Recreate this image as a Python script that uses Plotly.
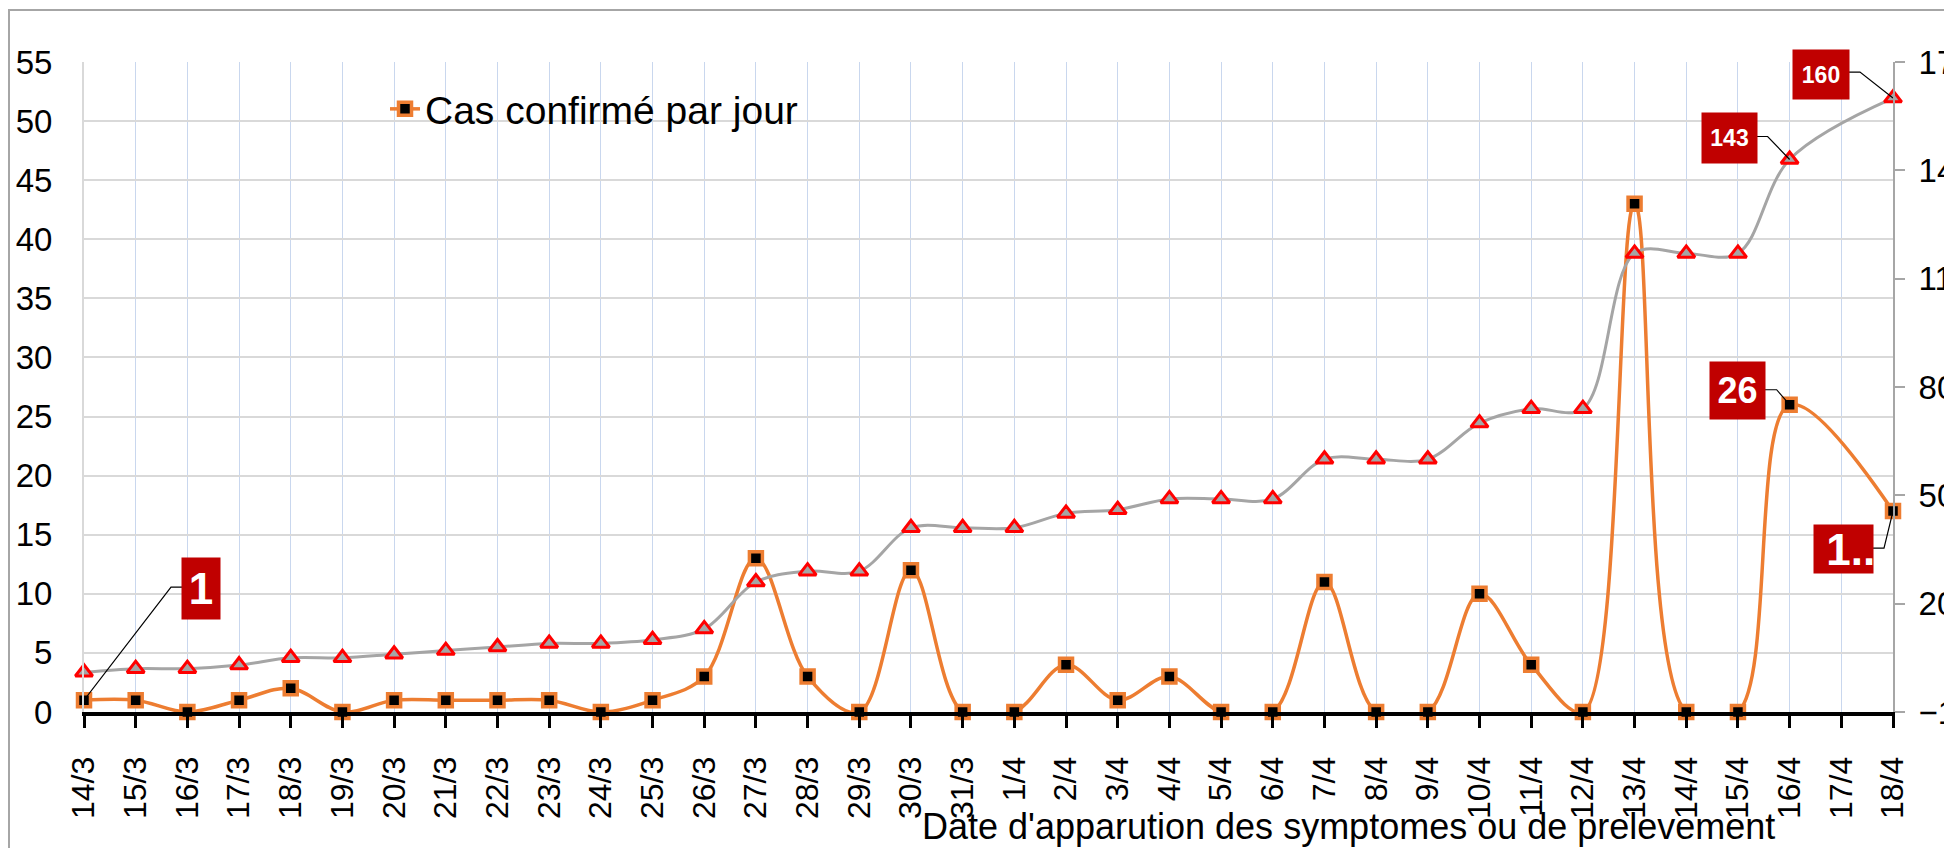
import plotly.graph_objects as go

# ---------------- data ----------------
dates = ["14/3", "15/3", "16/3", "17/3", "18/3", "19/3", "20/3", "21/3", "22/3",
         "23/3", "24/3", "25/3", "26/3", "27/3", "28/3", "29/3", "30/3", "31/3",
         "1/4", "2/4", "3/4", "4/4", "5/4", "6/4", "7/4", "8/4", "9/4", "10/4",
         "11/4", "12/4", "13/4", "14/4", "15/4", "16/4", "17/4", "18/4"]
daily_cases = [1, 1, 0, 1, 2, 0, 1, 1, 1, 1, 0, 1, 3, 13, 3, 0, 12, 0,
               0, 4, 1, 3, 0, 0, 11, 0, 0, 10, 4, 0, 43, 0, 0, 26, None, 17]
cumulative_cases = [1, 2, 2, 3, 5, 5, 6, 7, 8, 9, 9, 10, 13, 26, 29, 29, 41, 41,
                    41, 45, 46, 49, 49, 49, 60, 60, 60, 70, 74, 74, 117, 117, 117, 143, None, 160]
left_range = [0, 55]
left_dtick = 5
right_range = [-10, 170]
right_dtick = 30
legend_name = "Cas confirmé par jour"
x_title = "Date d'apparution des symptomes ou de prelevement"
# data labels: (date, series, shown text)
data_labels = [("14/3", "daily", "1"), ("16/4", "daily", "26"), ("18/4", "daily", "\u00a01.."),
               ("16/4", "cumul", "143"), ("18/4", "cumul", "160")]

# ---------------- layout geometry (page pixels) ----------------
PAGE_W, PAGE_H = 1952, 848
OFF = 8                      # default body margin of the html page
W, H = PAGE_W - OFF, PAGE_H - OFF
L, R, T, B = 84, 1893, 62, 712   # plot area in page pixels


def pxx(px):
    return (px - L) / (R - L)


def pxy(py):
    return (B - py) / (B - T)


FONT = "Liberation Sans, Arial, sans-serif"
ORANGE = "#ED7D31"
GRAY = "#A5A5A5"
LABEL_BG = "#C00000"

fig = go.Figure()
fig.add_trace(go.Scatter(
    x=dates, y=daily_cases, name=legend_name, mode="lines+markers",
    line=dict(color=ORANGE, width=3.5, shape="spline", smoothing=1),
    connectgaps=True, cliponaxis=False,
    marker=dict(symbol="square", size=13, color="black", line=dict(color=ORANGE, width=3.5)),
))
fig.add_trace(go.Scatter(
    x=dates, y=cumulative_cases, yaxis="y2", name="Cumul", mode="lines+markers",
    line=dict(color=GRAY, width=3, shape="spline", smoothing=1),
    connectgaps=True, cliponaxis=False, showlegend=False,
    marker=dict(symbol="triangle-up", size=15, color=GRAY, line=dict(color="#FF0000", width=3)),
))

# label styles: shift of box centre from the point (px, y up), box size, font size, leader path
label_style = {
    "1": dict(xs=117, ys=112, w=38, h=61, fs=44, al="center", path=[(98, 113), (87, 113)]),
    "26": dict(xs=-52, ys=14, w=55, h=57, fs=36, al="center", path=[(-25, 15), (-13, 15)]),
    "\u00a01..": dict(xs=-50, ys=-38, w=59, h=48, fs=44, al="left", path=[(-20, -37), (-9, -37)]),
    "143": dict(xs=-60, ys=22, w=55, h=50, fs=23, al="center", path=[(-33, 23), (-22, 23)]),
    "160": dict(xs=-72, ys=24, w=56, h=49, fs=23, al="center", path=[(-44, 26), (-33, 26)]),
}

annotations = []
shapes = []
for d, series, txt in data_labels:
    i = dates.index(d)
    yv = daily_cases[i] if series == "daily" else cumulative_cases[i]
    yref = "y" if series == "daily" else "y2"
    st = label_style[txt]
    annotations.append(dict(
        x=i, y=yv, xref="x", yref=yref, text="<b>%s</b>" % txt, showarrow=False,
        xshift=st["xs"], yshift=st["ys"], width=st["w"], height=st["h"], borderpad=0,
        bgcolor=LABEL_BG, font=dict(family=FONT, size=st["fs"], color="white"),
        xanchor="center", yanchor="middle", align=st["al"], valign="middle",
    ))
    (a, b), (c, e) = st["path"]
    shapes.append(dict(
        type="path", xref="x", yref=yref, xsizemode="pixel", ysizemode="pixel",
        xanchor=i, yanchor=yv, path="M %d,%d L %d,%d L 0,0" % (a, b, c, e),
        line=dict(color="black", width=1.2),
    ))

# axis title
annotations.append(dict(
    x=pxx(1348), y=pxy(826), xref="paper", yref="paper", text=x_title, showarrow=False,
    xanchor="center", yanchor="middle", font=dict(family=FONT, size=36, color="black"),
))

# chart frame
shapes += [
    dict(type="line", xref="paper", yref="paper", x0=pxx(8), x1=pxx(1960), y0=pxy(10), y1=pxy(10),
         line=dict(color="#A6A6A6", width=2)),
    dict(type="line", xref="paper", yref="paper", x0=pxx(9), x1=pxx(9), y0=pxy(10), y1=pxy(870),
         line=dict(color="#A6A6A6", width=2)),
]

fig.update_layout(
    width=W, height=H,
    margin=dict(l=L - OFF, r=PAGE_W - R, t=T - OFF, b=PAGE_H - B, pad=0, autoexpand=False),
    paper_bgcolor="white", plot_bgcolor="white",
    font=dict(family=FONT, color="black", size=33),
    xaxis=dict(
        type="category", categoryorder="array", categoryarray=dates,
        range=[0, len(dates) - 1], automargin=False,
        showgrid=True, gridcolor="#C9D7EE", gridwidth=1,
        showline=True, linecolor="black", linewidth=4,
        ticks="outside", ticklen=12, tickwidth=3, tickcolor="black",
        tickangle=-90, tickfont=dict(family=FONT, size=32, color="black"),
        ticklabelstandoff=16, zeroline=False,
    ),
    yaxis=dict(
        range=left_range, tick0=0, dtick=left_dtick, automargin=False,
        showgrid=True, gridcolor="#D9D9D9", gridwidth=2, zeroline=False,
        showline=True, linecolor="#D9D9D9", linewidth=2,
        ticks="", tickfont=dict(family=FONT, size=33, color="black"),
        ticklabelstandoff=23,
    ),
    yaxis2=dict(
        overlaying="y", side="right", range=right_range, tick0=right_range[0], dtick=right_dtick,
        automargin=False, showgrid=False, zeroline=False,
        showline=True, linecolor="#A6A6A6", linewidth=2,
        ticks="outside", ticklen=10, tickwidth=2, tickcolor="#A6A6A6",
        tickfont=dict(family=FONT, size=33, color="black"), ticklabelstandoff=7,
    ),
    legend=dict(
        x=pxx(385), y=pxy(109), xanchor="left", yanchor="middle",
        bgcolor="rgba(0,0,0,0)", font=dict(family=FONT, size=39, color="black"),
    ),
    annotations=annotations,
    shapes=shapes,
)

fig.write_html("out.html")
